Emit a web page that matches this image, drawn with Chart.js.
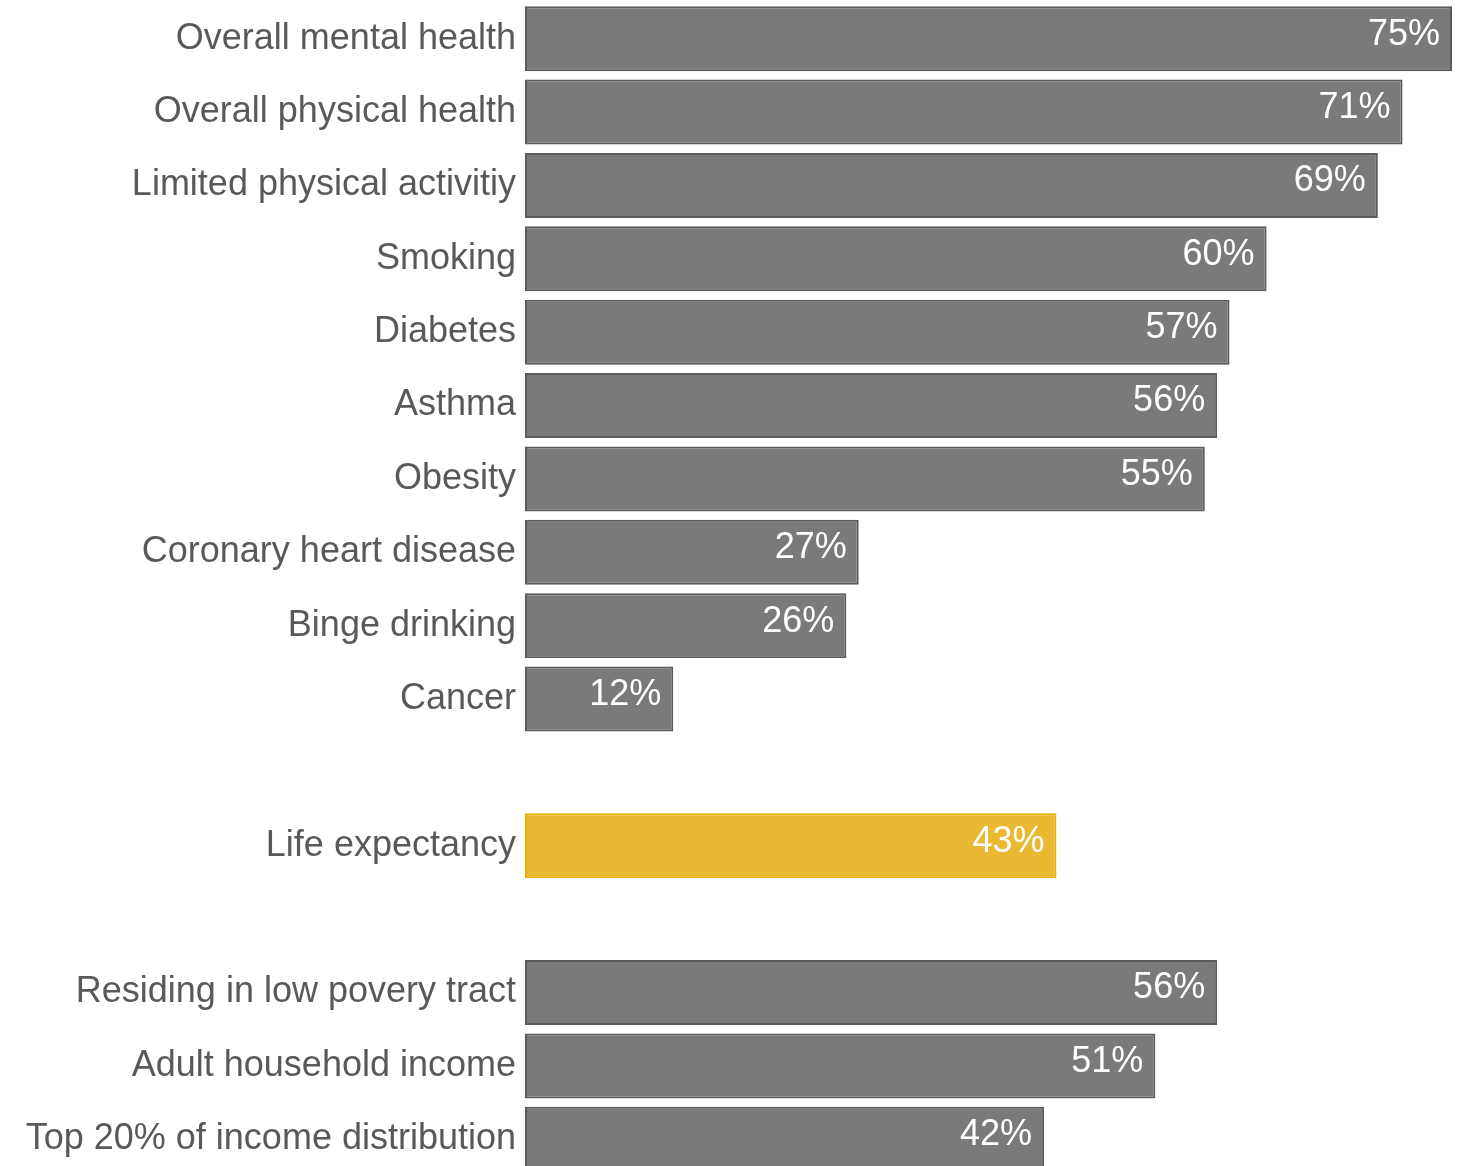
<!DOCTYPE html>
<html>
<head>
<meta charset="utf-8">
<script src="https://cdn.jsdelivr.net/npm/chart.js@4"></script>
<style>
  html, body { margin: 0; padding: 0; background: #fff; overflow: hidden; }
  #wrap { width: 1465px; height: 1176px; }
</style>
</head>
<body>
<div id="wrap"><canvas id="chart"></canvas></div>
<script>
// categories (empty strings are the spacer rows between groups)
const categories = [
  'Overall mental health',
  'Overall physical health',
  'Limited physical activitiy',
  'Smoking',
  'Diabetes',
  'Asthma',
  'Obesity',
  'Coronary heart disease',
  'Binge drinking',
  'Cancer',
  '',
  'Life expectancy',
  '',
  'Residing in low povery tract',
  'Adult household income',
  'Top 20% of income distribution'
];
const values = [75, 71, 69, 60, 57, 56, 55, 27, 26, 12, null, 43, null, 56, 51, 42];
const highlighted = ['Life expectancy'];

const GREY = '#7a7a7c';
const GREY_EDGE = '#5b5b5b';
const GOLD = '#eab833';
const GOLD_EDGE = '#e8ae00';
const TEXT = '#595959';
const FONT = '"Liberation Sans", Arial, sans-serif';

// white value labels right-aligned inside bar ends
const valueLabels = {
  id: 'valueLabels',
  afterDatasetsDraw(chart) {
    const ctx = chart.ctx;
    const meta = chart.getDatasetMeta(0);
    ctx.save();
    ctx.font = '36px ' + FONT;
    ctx.fillStyle = '#ffffff';
    ctx.textAlign = 'right';
    ctx.textBaseline = 'middle';
    meta.data.forEach((bar, i) => {
      if (values[i] == null) return;
      ctx.fillText(values[i] + '%', bar.x - 12, bar.y - 4);
    });
    ctx.restore();
  }
};

new Chart(document.getElementById('chart'), {
  type: 'bar',
  data: {
    labels: categories,
    datasets: [{
      data: values,
      backgroundColor: categories.map(c => highlighted.includes(c) ? GOLD : GREY),
      borderColor: categories.map(c => highlighted.includes(c) ? GOLD_EDGE : GREY_EDGE),
      borderWidth: 2,
      borderSkipped: false,
      categoryPercentage: 1,
      barPercentage: 0.885
    }]
  },
  options: {
    indexAxis: 'y',
    responsive: true,
    maintainAspectRatio: false,
    animation: false,
    layout: { padding: { top: 2, right: 13, bottom: 0, left: 0 } },
    plugins: {
      legend: { display: false },
      tooltip: { enabled: false }
    },
    scales: {
      x: {
        display: false,
        min: 0,
        max: 75
      },
      y: {
        grid: { display: false, drawTicks: false },
        border: { display: false },
        afterFit(scale) {
          scale.width = 525;
          scale.paddingTop = 0;
          scale.paddingBottom = 0;
        },
        ticks: {
          padding: 9,
          color: TEXT,
          font: { family: FONT, size: 36 }
        }
      }
    }
  },
  plugins: [valueLabels]
});
</script>
</body>
</html>
